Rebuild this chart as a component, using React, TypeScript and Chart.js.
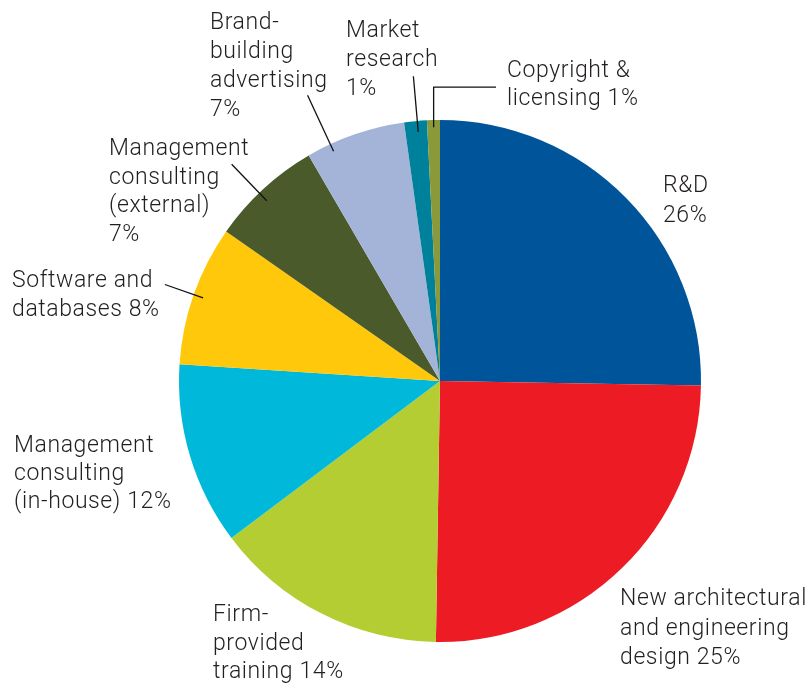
import React, { useEffect, useRef } from "react";
import { Chart, registerables } from "chart.js";

Chart.register(...registerables);

// Categories (clockwise from 12 o'clock)
const categories = [
  "R&D",
  "New architectural and engineering design",
  "Firm-provided training",
  "Management consulting (in-house)",
  "Software and databases",
  "Management consulting (external)",
  "Brand-building advertising",
  "Market research",
  "Copyright & licensing",
];

// Slice sizes (share of total, %)
const shares = [25.3, 25.0, 14.5, 11.3, 8.7, 6.9, 6.2, 1.4, 0.8];

// Percentages as printed in the labels
const printedPercents = [26, 25, 14, 12, 8, 7, 7, 1, 1];

const colors = [
  "#00549A",
  "#ED1C24",
  "#B4CD32",
  "#00B9DA",
  "#FFC80B",
  "#4B5A2B",
  "#A3B4D8",
  "#00819B",
  "#8A9A3B",
];

// Label text lines
const labelLines: string[][] = [
  ["R&D", "26%"],
  ["New architectural", "and engineering", "design 25%"],
  ["Firm-", "provided", "training 14%"],
  ["Management", "consulting", "(in-house) 12%"],
  ["Software and", "databases 8%"],
  ["Management", "consulting", "(external)", "7%"],
  ["Brand-", "building", "advertising", "7%"],
  ["Market", "research", "1%"],
  ["Copyright &", "licensing 1%"],
];

// Layout of labels: left x and first baseline y, line height
const labelLayout = [
  { x: 663, y: 192, lh: 30 },
  { x: 620, y: 605, lh: 29.5 },
  { x: 213, y: 621, lh: 28.5 },
  { x: 14, y: 452, lh: 28 },
  { x: 12, y: 287, lh: 29 },
  { x: 109, y: 155, lh: 28.7 },
  { x: 210, y: 29, lh: 29 },
  { x: 346, y: 37, lh: 29 },
  { x: 507, y: 77, lh: 28 },
];

// Leader lines: slice index, position within slice (0..1), inner & outer radius factors
const leaders = [
  { i: 4, t: 0.5, rIn: 0.962, rOut: 1.117 },
  { i: 5, t: 0.45, rIn: 0.958, rOut: 1.152 },
  { i: 6, t: 0.24, rIn: 0.97, rOut: 1.207 },
  { i: 7, t: 0.58, rIn: 0.958, rOut: 1.172 },
];
// Elbow leader for copyright: up to radius factor, then right to x
const elbowLeader = { i: 8, t: 0.5, rIn: 0.973, rUp: 1.126, xEnd: 496 };

const FONT = "300 23px Roboto, 'Liberation Sans', sans-serif";
const TEXT_COLOR = "#231F20";

const labelPlugin = {
  id: "pieLabels",
  afterDraw(chart: any) {
    const ctx = chart.ctx as CanvasRenderingContext2D;
    const meta = chart.getDatasetMeta(0);
    const arcs = meta.data as any[];
    if (!arcs.length) return;
    const cx = arcs[0].x;
    const cy = arcs[0].y;
    const R = arcs[0].outerRadius;
    ctx.save();
    ctx.strokeStyle = "#111";
    ctx.lineWidth = 1.3;
    const angAt = (i: number, t: number) => {
      const a = arcs[i];
      return a.startAngle + (a.endAngle - a.startAngle) * t;
    };
    for (const l of leaders) {
      const ang = angAt(l.i, l.t);
      ctx.beginPath();
      ctx.moveTo(cx + Math.cos(ang) * R * l.rIn, cy + Math.sin(ang) * R * l.rIn);
      ctx.lineTo(cx + Math.cos(ang) * R * l.rOut, cy + Math.sin(ang) * R * l.rOut);
      ctx.stroke();
    }
    {
      const e = elbowLeader;
      const ang = angAt(e.i, e.t);
      const x0 = cx + Math.cos(ang) * R * e.rIn;
      const y0 = cy + Math.sin(ang) * R * e.rIn;
      const yTop = cy - R * e.rUp;
      ctx.beginPath();
      ctx.moveTo(x0, y0);
      ctx.lineTo(x0, yTop);
      ctx.lineTo(e.xEnd, yTop);
      ctx.stroke();
    }
    ctx.fillStyle = TEXT_COLOR;
    ctx.font = FONT;
    (ctx as any).letterSpacing = "0.6px";
    ctx.textAlign = "left";
    ctx.textBaseline = "alphabetic";
    labelLines.forEach((lines, i) => {
      const L = labelLayout[i];
      lines.forEach((s, k) => ctx.fillText(s, L.x, L.y + k * L.lh));
    });
    ctx.restore();
  },
};

export default function App() {
  const ref = useRef<HTMLCanvasElement | null>(null);
  useEffect(() => {
    if (!ref.current) return;
    const chart = new Chart(ref.current, {
      type: "pie",
      data: {
        labels: categories,
        datasets: [
          {
            data: shares,
            backgroundColor: colors,
            borderWidth: 0,
          },
        ],
      },
      options: {
        responsive: false,
        animation: false,
        layout: { padding: { left: 179, right: 108, top: 120, bottom: 42 } },
        plugins: {
          legend: { display: false },
          tooltip: { enabled: false },
        },
      },
      plugins: [labelPlugin],
    });
    return () => chart.destroy();
  }, []);
  return (
    <div style={{ position: "absolute", left: 0, top: 0, width: 809, height: 684, background: "#fff" }}>
      <canvas ref={ref} width={809} height={684} style={{ display: "block" }} />
    </div>
  );
}
